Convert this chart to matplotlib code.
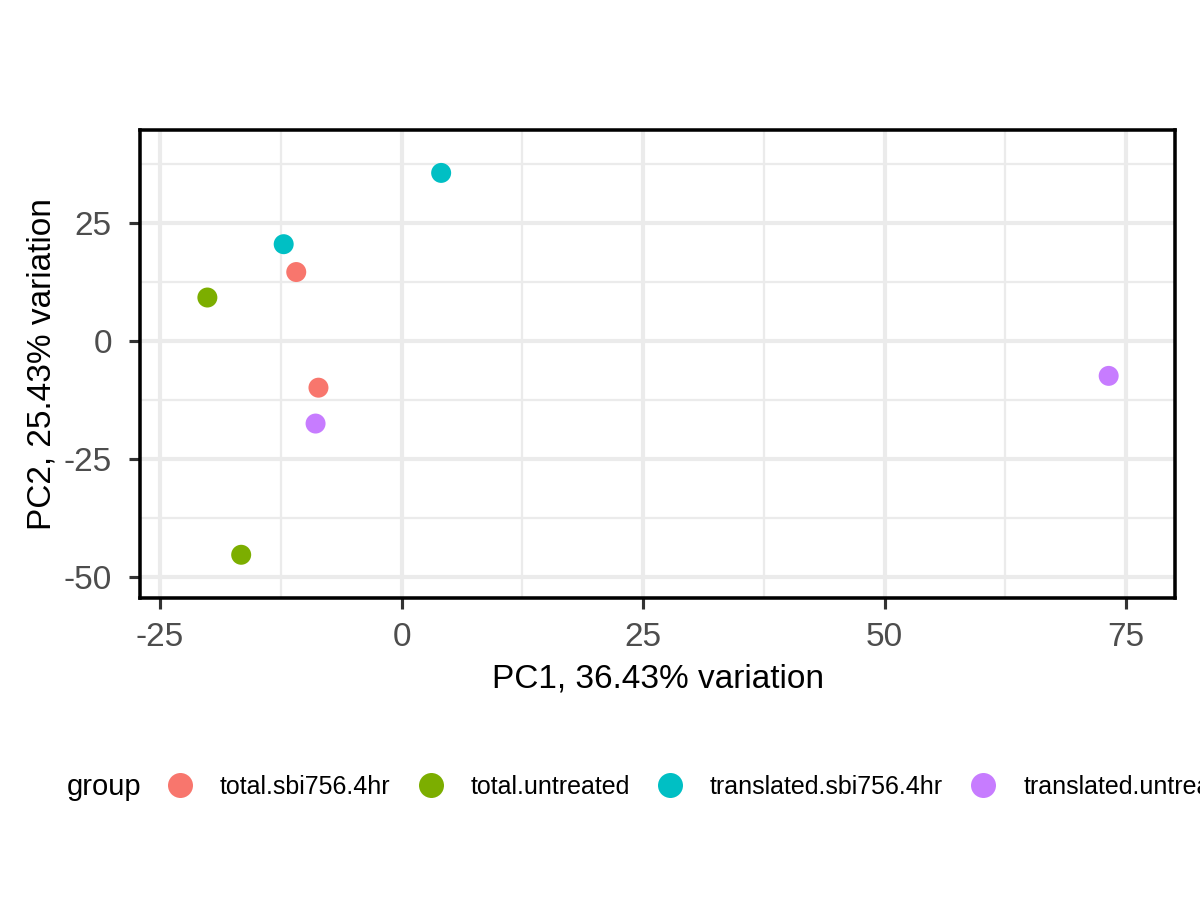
import numpy as np
import matplotlib.pyplot as plt
from matplotlib.lines import Line2D

plt.rcParams['font.family'] = ['Liberation Sans', 'DejaVu Sans']
plt.rcParams['axes.unicode_minus'] = False

# PCA scores, per group
groups = ['total.sbi756.4hr', 'total.untreated', 'translated.sbi756.4hr', 'translated.untreated']
colours = ['#F8766D', '#7CAE00', '#00BFC4', '#C77CFF']
pc1 = [[-10.9, -8.6], [-20.1, -16.6], [4.1, -12.2], [-8.9, 73.2]]
pc2 = [[14.6, -9.9], [9.2, -45.3], [35.6, 20.5], [-17.5, -7.4]]

xticks = [-25, 0, 25, 50, 75]
yticks = [-50, -25, 0, 25]

fig = plt.figure(figsize=(8, 6), dpi=150)
ax = fig.add_axes([0.1167, 0.3356, 0.8625, 0.52])

for g, c, xs, ys in zip(groups, colours, pc1, pc2):
    ax.scatter(xs, ys, s=92, color=c, edgecolors='none', zorder=3)

ax.set_xlim(-27.07, 80.07)
ax.set_ylim(-54.45, 44.7)
ax.set_xticks(xticks)
ax.set_yticks(yticks)
ax.set_xticks([-12.5, 12.5, 37.5, 62.5], minor=True)
ax.set_yticks([-37.5, -12.5, 12.5, 37.5], minor=True)
ax.grid(which='major', color='#EBEBEB', linewidth=2.0, zorder=0)
ax.grid(which='minor', color='#EBEBEB', linewidth=1.1, zorder=0)
ax.set_axisbelow(True)
ax.tick_params(which='major', length=5.5, width=1.5, color='#333333',
               labelsize=16, labelcolor='#4D4D4D', pad=6)
ax.tick_params(axis='y', which='major', pad=8)
ax.tick_params(which='minor', length=0)
for sp in ax.spines.values():
    sp.set_linewidth(1.7)
    sp.set_color('black')

ax.set_xlabel('PC1, 36.43% variation', fontsize=16, labelpad=5)
ax.set_ylabel('PC2, 25.43% variation', fontsize=16)
ax.yaxis.set_label_coords(-0.080, 0.5)

# legend along the bottom, title at the left
fig.text(67 / 1200, 1 - 787 / 900, 'group', fontsize=14, ha='left', va='center')
handles = [Line2D([], [], linestyle='none', marker='o', markersize=12,
                  markerfacecolor=c, markeredgecolor='none') for c in colours]
fig.legend(handles, groups, loc='center left', bbox_to_anchor=(167.5 / 1200, 1 - 787 / 900),
           ncol=4, frameon=False, fontsize=12, handlelength=1.0, handletextpad=1.1,
           columnspacing=1.1, borderpad=0, borderaxespad=0)

fig.savefig('out.png', dpi=150)
